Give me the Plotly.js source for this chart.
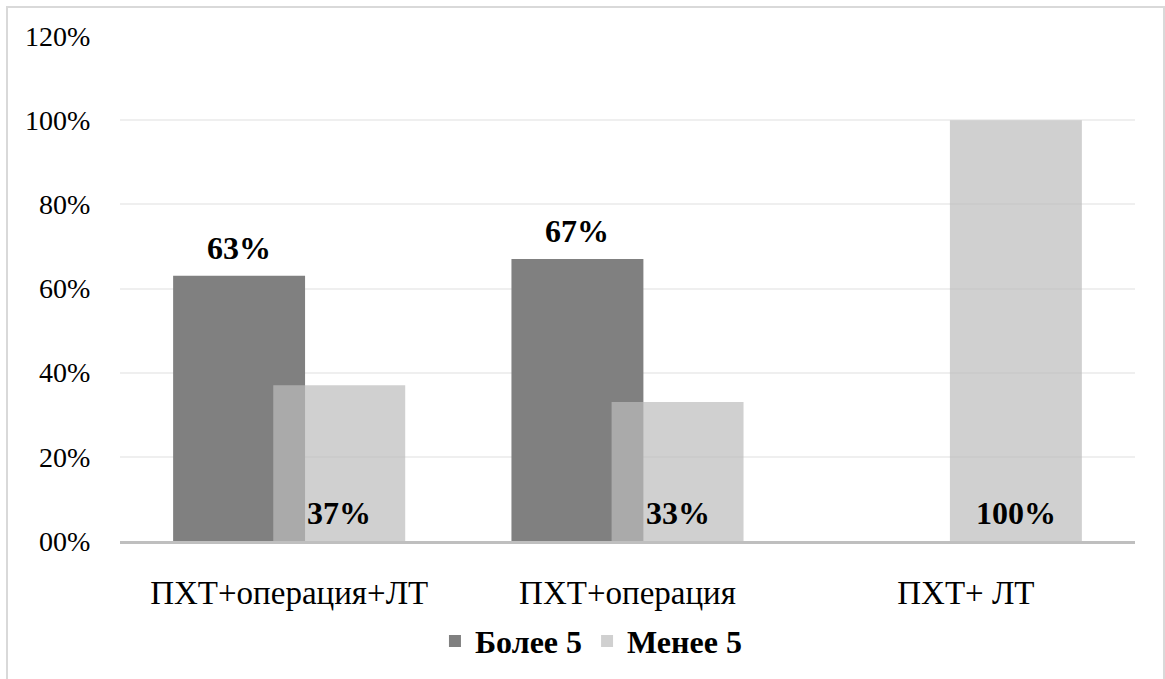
<!DOCTYPE html>
<html>
<head>
<meta charset="utf-8">
<script src="https://cdn.plot.ly/plotly-3.0.1.min.js"></script>
<style>
html,body{margin:0;padding:0;background:#fff;}
#chart{width:1165px;height:679px;}
</style>
</head>
<body>
<div id="chart"></div>
<script>
const categories = ['ПХТ+операция+ЛТ', 'ПХТ+операция', 'ПХТ+ ЛТ'];
const more5 = [63, 67, 0];
const less5 = [37, 33, 100];
const seriesNames = ['Более 5', 'Менее 5'];
const yTickVals = [0, 20, 40, 60, 80, 100, 120];
const yTickText = ['00%', '20%', '40%', '60%', '80%', '100%', '120%'];

const FONT = 'Liberation Serif';
const W = 0.39;
const SHIFT = 0.148;
const LABEL_FONT = {family: FONT, size: 32, color: '#000', weight: 'bold'};

const traces = [
  {
    type: 'bar', name: seriesNames[0], x: categories, y: more5,
    width: W, offset: -W / 2 - SHIFT,
    marker: {color: '#808080'},
    hoverinfo: 'none'
  },
  {
    type: 'bar', name: seriesNames[1], x: categories, y: less5,
    width: W, offset: -W / 2 + SHIFT,
    marker: {color: 'rgba(188,188,188,0.7)'},
    hoverinfo: 'none'
  }
];

const annotations = [];
more5.forEach((v, i) => {
  if (v > 0) annotations.push({
    x: i - SHIFT, y: v, xref: 'x', yref: 'y', text: v + '%', showarrow: false,
    xanchor: 'center', yanchor: 'middle', yshift: 28, font: LABEL_FONT
  });
});
less5.forEach((v, i) => {
  if (v > 0) annotations.push({
    x: i + SHIFT, y: 0, xref: 'x', yref: 'y', text: v + '%', showarrow: false,
    xanchor: 'center', yanchor: 'middle', yshift: 28, font: LABEL_FONT
  });
});

const layout = {
  width: 1165, height: 679,
  margin: {l: 120, r: 30, t: 36, b: 136.5},
  paper_bgcolor: '#fff', plot_bgcolor: '#fff',
  barmode: 'overlay',
  font: {family: FONT, size: 28, color: '#000'},
  showlegend: true,
  legend: {
    orientation: 'h', x: 0.464, xanchor: 'center', y: -0.196, yanchor: 'middle',
    font: {family: FONT, size: 32, color: '#000', weight: 'bold'},
    traceorder: 'normal'
  },
  xaxis: {
    type: 'category', range: [-0.5, 2.5],
    showgrid: false, zeroline: false,
    showline: true, linecolor: '#bfbfbf', linewidth: 3,
    ticks: 'outside', ticklen: 20, tickcolor: 'rgba(0,0,0,0)',
    tickfont: {family: FONT, size: 33, color: '#000'}
  },
  yaxis: {
    range: [0, 120], tickvals: yTickVals, ticktext: yTickText,
    showgrid: true, gridcolor: '#efefef', gridwidth: 2,
    zeroline: false, showline: false,
    ticks: 'outside', ticklen: 23, tickcolor: 'rgba(0,0,0,0)',
    tickfont: {family: FONT, size: 28, color: '#000'}
  },
  annotations: annotations,
  shapes: [{
    type: 'rect', xref: 'paper', yref: 'paper', layer: 'above',
    x0: (7 - 120) / 1015, x1: (1164 - 120) / 1015,
    y0: (542.5 - 690) / 506.5, y1: (542.5 - 7) / 506.5,
    line: {color: '#d9d9d9', width: 2}, fillcolor: 'rgba(0,0,0,0)'
  }]
};

Plotly.newPlot('chart', traces, layout, {displayModeBar: false, staticPlot: true});
</script>
</body>
</html>
